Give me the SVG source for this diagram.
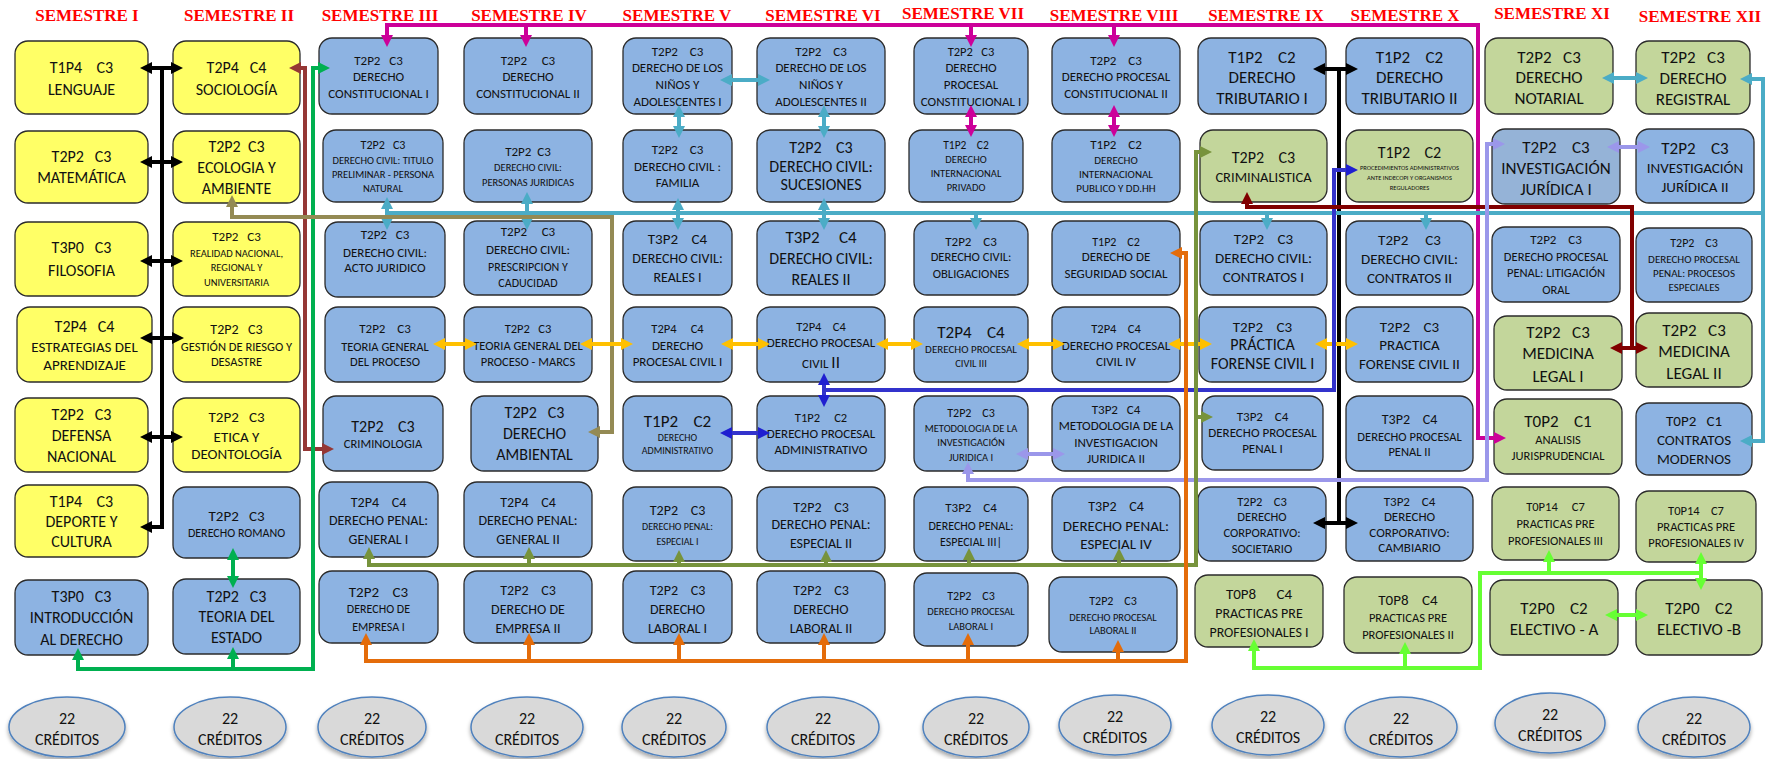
<svg xmlns="http://www.w3.org/2000/svg" width="1765" height="759" viewBox="0 0 1765 759">
<style>
.bx{stroke:#2b2b2b;stroke-width:1.3}
.y{fill:#ffff66}.b{fill:#8db3e2}.g{fill:#c3d69b}.gb{fill:#95b3d7}
text{font-family:"Carlito","Liberation Sans Narrow","Lato",sans-serif;fill:#111;text-anchor:middle;white-space:pre}
.h{font-family:"Liberation Serif",serif;font-weight:bold;fill:#ff0000;font-size:17px}
.s65{font-size:6.5px}.s10{font-size:10px}.s105{font-size:10.5px}.s11{font-size:11px}.s115{font-size:11.5px}.s12{font-size:12px}.s125{font-size:12.5px}.s13{font-size:13px}.s14{font-size:14px}.s145{font-size:14.5px}.s15{font-size:15px}.s16{font-size:16px}.s17{font-size:17px}
.cn path{fill:none;stroke-width:4}
.k{stroke:#000}.br{stroke:#953735}.gr{stroke:#00b050}.mg{stroke:#cc0099}.tl{stroke:#4bacc6}.kh{stroke:#948a54}.gd{stroke:#ffc000}.bl{stroke:#3333cc}.dr{stroke:#800000}.lv{stroke:#9b97ea}.og{stroke:#77933c}.or{stroke:#e46c0a}.lm{stroke:#66ff33}
.el{fill:#d9d9d9;stroke:#4f81bd;stroke-width:1.5}
</style>
<defs>
<filter id="sh" x="-20%" y="-20%" width="140%" height="160%"><feDropShadow dx="0" dy="3" stdDeviation="2" flood-color="#000" flood-opacity="0.35"/></filter>
<marker id="a-k" viewBox="0 0 12 12" refX="8" refY="6" markerWidth="12" markerHeight="12" markerUnits="userSpaceOnUse" orient="auto-start-reverse"><path d="M0,0 L12,6 L0,12 z" fill="#000"/></marker>
<marker id="a-br" viewBox="0 0 12 12" refX="8" refY="6" markerWidth="12" markerHeight="12" markerUnits="userSpaceOnUse" orient="auto-start-reverse"><path d="M0,0 L12,6 L0,12 z" fill="#953735"/></marker>
<marker id="a-gr" viewBox="0 0 12 12" refX="8" refY="6" markerWidth="12" markerHeight="12" markerUnits="userSpaceOnUse" orient="auto-start-reverse"><path d="M0,0 L12,6 L0,12 z" fill="#00b050"/></marker>
<marker id="a-mg" viewBox="0 0 12 12" refX="8" refY="6" markerWidth="12" markerHeight="12" markerUnits="userSpaceOnUse" orient="auto-start-reverse"><path d="M0,0 L12,6 L0,12 z" fill="#cc0099"/></marker>
<marker id="a-tl" viewBox="0 0 12 12" refX="8" refY="6" markerWidth="12" markerHeight="12" markerUnits="userSpaceOnUse" orient="auto-start-reverse"><path d="M0,0 L12,6 L0,12 z" fill="#4bacc6"/></marker>
<marker id="a-kh" viewBox="0 0 12 12" refX="8" refY="6" markerWidth="12" markerHeight="12" markerUnits="userSpaceOnUse" orient="auto-start-reverse"><path d="M0,0 L12,6 L0,12 z" fill="#948a54"/></marker>
<marker id="a-gd" viewBox="0 0 12 12" refX="8" refY="6" markerWidth="12" markerHeight="12" markerUnits="userSpaceOnUse" orient="auto-start-reverse"><path d="M0,0 L12,6 L0,12 z" fill="#ffc000"/></marker>
<marker id="a-bl" viewBox="0 0 12 12" refX="8" refY="6" markerWidth="12" markerHeight="12" markerUnits="userSpaceOnUse" orient="auto-start-reverse"><path d="M0,0 L12,6 L0,12 z" fill="#1f1fd0"/></marker>
<marker id="a-dr" viewBox="0 0 12 12" refX="8" refY="6" markerWidth="12" markerHeight="12" markerUnits="userSpaceOnUse" orient="auto-start-reverse"><path d="M0,0 L12,6 L0,12 z" fill="#800000"/></marker>
<marker id="a-lv" viewBox="0 0 12 12" refX="8" refY="6" markerWidth="12" markerHeight="12" markerUnits="userSpaceOnUse" orient="auto-start-reverse"><path d="M0,0 L12,6 L0,12 z" fill="#9b97ea"/></marker>
<marker id="a-og" viewBox="0 0 12 12" refX="8" refY="6" markerWidth="12" markerHeight="12" markerUnits="userSpaceOnUse" orient="auto-start-reverse"><path d="M0,0 L12,6 L0,12 z" fill="#77933c"/></marker>
<marker id="a-or" viewBox="0 0 12 12" refX="8" refY="6" markerWidth="12" markerHeight="12" markerUnits="userSpaceOnUse" orient="auto-start-reverse"><path d="M0,0 L12,6 L0,12 z" fill="#e46c0a"/></marker>
<marker id="a-lm" viewBox="0 0 12 12" refX="8" refY="6" markerWidth="12" markerHeight="12" markerUnits="userSpaceOnUse" orient="auto-start-reverse"><path d="M0,0 L12,6 L0,12 z" fill="#66ff33"/></marker>
</defs>
<rect width="1765" height="759" fill="#fff"/>

<g id="headers">
<text class="h" x="87" y="21">SEMESTRE I</text>
<text class="h" x="239" y="21">SEMESTRE II</text>
<text class="h" x="380" y="21">SEMESTRE III</text>
<text class="h" x="529" y="21">SEMESTRE IV</text>
<text class="h" x="677" y="21">SEMESTRE V</text>
<text class="h" x="823" y="21">SEMESTRE VI</text>
<text class="h" x="963" y="19">SEMESTRE VII</text>
<text class="h" x="1114" y="21">SEMESTRE VIII</text>
<text class="h" x="1266" y="21">SEMESTRE IX</text>
<text class="h" x="1405" y="21">SEMESTRE X</text>
<text class="h" x="1552" y="19">SEMESTRE XI</text>
<text class="h" x="1700" y="22">SEMESTRE XII</text>
</g>

<!-- Semester I -->
<g id="s1-lenguaje"><rect class="bx y" x="15" y="41" width="133" height="73" rx="13"/><text class="s16" x="81.5" y="73">T1P4    C3</text><text class="s16" x="81.5" y="95">LENGUAJE</text></g>
<g id="s1-matematica"><rect class="bx y" x="15" y="131" width="133" height="72" rx="13"/><text class="s16" x="81.5" y="162">T2P2   C3</text><text class="s16" x="81.5" y="183">MATEMÁTICA</text></g>
<g id="s1-filosofia"><rect class="bx y" x="15" y="222" width="133" height="74" rx="13"/><text class="s16" x="81.5" y="253">T3P0   C3</text><text class="s16" x="81.5" y="276">FILOSOFIA</text></g>
<g id="s1-estrategias"><rect class="bx y" x="17" y="307" width="135" height="75" rx="13"/><text class="s16" x="84.5" y="332">T2P4   C4</text><text class="s15" x="84.5" y="352">ESTRATEGIAS DEL</text><text class="s15" x="84.5" y="370">APRENDIZAJE</text></g>
<g id="s1-defensa"><rect class="bx y" x="15" y="398" width="133" height="74" rx="13"/><text class="s16" x="81.5" y="420">T2P2   C3</text><text class="s16" x="81.5" y="441">DEFENSA</text><text class="s16" x="81.5" y="462">NACIONAL</text></g>
<g id="s1-deporte"><rect class="bx y" x="15" y="485" width="133" height="72" rx="13"/><text class="s16" x="81.5" y="507">T1P4    C3</text><text class="s16" x="81.5" y="527">DEPORTE Y</text><text class="s16" x="81.5" y="547">CULTURA</text></g>
<g id="s1-introduccion"><rect class="bx b" x="15" y="580" width="133" height="75" rx="13"/><text class="s16" x="81.5" y="602">T3P0   C3</text><text class="s16" x="81.5" y="623">INTRODUCCIÓN</text><text class="s16" x="81.5" y="645">AL DERECHO</text></g>

<!-- Semester II -->
<g id="s2-sociologia"><rect class="bx y" x="173" y="41" width="127" height="73" rx="13"/><text class="s16" x="236.5" y="73">T2P4   C4</text><text class="s16" x="236.5" y="95">SOCIOLOGÍA</text></g>
<g id="s2-ecologia"><rect class="bx y" x="173" y="131" width="127" height="72" rx="13"/><text class="s16" x="236.5" y="152">T2P2  C3</text><text class="s16" x="236.5" y="173">ECOLOGIA Y</text><text class="s16" x="236.5" y="194">AMBIENTE</text></g>
<g id="s2-realidad"><rect class="bx y" x="173" y="222" width="127" height="74" rx="13"/><text class="s13" x="236.5" y="241">T2P2   C3</text><text class="s105" x="236.5" y="257">REALIDAD NACIONAL,</text><text class="s105" x="236.5" y="271">REGIONAL Y</text><text class="s105" x="236.5" y="286">UNIVERSITARIA</text></g>
<g id="s2-gestion"><rect class="bx y" x="173" y="307" width="127" height="75" rx="13"/><text class="s14" x="236.5" y="334">T2P2   C3</text><text class="s125" x="236.5" y="351">GESTIÓN DE RIESGO Y</text><text class="s125" x="236.5" y="366">DESASTRE</text></g>
<g id="s2-etica"><rect class="bx y" x="173" y="398" width="127" height="74" rx="13"/><text class="s15" x="236.5" y="422">T2P2   C3</text><text class="s15" x="236.5" y="442">ETICA Y</text><text class="s15" x="236.5" y="459">DEONTOLOGÍA</text></g>
<g id="s2-romano"><rect class="bx b" x="173" y="487" width="127" height="71" rx="13"/><text class="s15" x="236.5" y="521">T2P2   C3</text><text class="s12" x="236.5" y="537">DERECHO ROMANO</text></g>
<g id="s2-estado"><rect class="bx b" x="173" y="579" width="127" height="75" rx="13"/><text class="s16" x="236.5" y="602">T2P2   C3</text><text class="s16" x="236.5" y="622">TEORIA DEL</text><text class="s16" x="236.5" y="643">ESTADO</text></g>

<!-- Semester III -->
<g id="s3-constitucional"><rect class="bx b" x="319" y="38" width="119" height="76" rx="13"/><text class="s13" x="378.5" y="65">T2P2   C3</text><text class="s13" x="378.5" y="81">DERECHO</text><text class="s13" x="378.5" y="98">CONSTITUCIONAL I</text></g>
<g id="s3-titulo"><rect class="bx b" x="323" y="130" width="120" height="72" rx="13"/><text class="s12" x="383" y="149">T2P2   C3</text><text class="s105" x="383" y="164">DERECHO CIVIL: TITULO</text><text class="s105" x="383" y="178">PRELIMINAR - PERSONA</text><text class="s105" x="383" y="192">NATURAL</text></g>
<g id="s3-acto"><rect class="bx b" x="325" y="222" width="120" height="75" rx="13"/><text class="s13" x="385" y="239">T2P2   C3</text><text class="s13" x="385" y="257">DERECHO CIVIL:</text><text class="s13" x="385" y="272">ACTO JURIDICO</text></g>
<g id="s3-teoria"><rect class="bx b" x="325" y="307" width="120" height="75" rx="13"/><text class="s13" x="385" y="333">T2P2    C3</text><text class="s125" x="385" y="351">TEORIA GENERAL</text><text class="s125" x="385" y="366">DEL PROCESO</text></g>
<g id="s3-criminologia"><rect class="bx b" x="323" y="396" width="120" height="75" rx="13"/><text class="s16" x="383" y="432">T2P2    C3</text><text class="s125" x="383" y="448">CRIMINOLOGIA</text></g>
<g id="s3-penal"><rect class="bx b" x="319" y="482" width="119" height="75" rx="13"/><text class="s14" x="378.5" y="507">T2P4    C4</text><text class="s14" x="378.5" y="525">DERECHO PENAL:</text><text class="s14" x="378.5" y="544">GENERAL I</text></g>
<g id="s3-empresa"><rect class="bx b" x="319" y="571" width="119" height="72" rx="13"/><text class="s15" x="378.5" y="597">T2P2    C3</text><text class="s12" x="378.5" y="613">DERECHO DE</text><text class="s12" x="378.5" y="631">EMPRESA I</text></g>

<!-- Semester IV -->
<g id="s4-constitucional"><rect class="bx b" x="464" y="38" width="128" height="76" rx="13"/><text class="s13" x="528" y="65">T2P2     C3</text><text class="s13" x="528" y="81">DERECHO</text><text class="s13" x="528" y="98">CONSTITUCIONAL II</text></g>
<g id="s4-personas"><rect class="bx b" x="464" y="130" width="128" height="72" rx="13"/><text class="s13" x="528" y="156">T2P2  C3</text><text class="s105" x="528" y="171">DERECHO CIVIL:</text><text class="s105" x="528" y="186">PERSONAS JURIDICAS</text></g>
<g id="s4-prescripcion"><rect class="bx b" x="464" y="221" width="128" height="74" rx="13"/><text class="s13" x="528" y="236">T2P2     C3</text><text class="s13" x="528" y="254">DERECHO CIVIL:</text><text class="s12" x="528" y="271">PRESCRIPCION Y</text><text class="s12" x="528" y="287">CADUCIDAD</text></g>
<g id="s4-marcs"><rect class="bx b" x="464" y="307" width="128" height="75" rx="13"/><text class="s125" x="528" y="333">T2P2   C3</text><text class="s125" x="528" y="350">TEORIA GENERAL DEL</text><text class="s125" x="528" y="366">PROCESO - MARCS</text></g>
<g id="s4-ambiental"><rect class="bx b" x="471" y="396" width="127" height="75" rx="13"/><text class="s16" x="534.5" y="418">T2P2   C3</text><text class="s16" x="534.5" y="439">DERECHO</text><text class="s16" x="534.5" y="460">AMBIENTAL</text></g>
<g id="s4-penal"><rect class="bx b" x="464" y="482" width="128" height="75" rx="13"/><text class="s14" x="528" y="507">T2P4    C4</text><text class="s14" x="528" y="525">DERECHO PENAL:</text><text class="s14" x="528" y="544">GENERAL II</text></g>
<g id="s4-empresa"><rect class="bx b" x="464" y="571" width="128" height="72" rx="13"/><text class="s14" x="528" y="595">T2P2    C3</text><text class="s14" x="528" y="614">DERECHO DE</text><text class="s14" x="528" y="633">EMPRESA II</text></g>

<!-- Semester V -->
<g id="s5-ninos"><rect class="bx b" x="623" y="38" width="109" height="76" rx="13"/><text class="s13" x="677.5" y="56">T2P2    C3</text><text class="s13" x="677.5" y="72">DERECHO DE LOS</text><text class="s13" x="677.5" y="89">NIÑOS Y</text><text class="s13" x="677.5" y="106">ADOLESCENTES I</text></g>
<g id="s5-familia"><rect class="bx b" x="623" y="130" width="109" height="72" rx="13"/><text class="s13" x="677.5" y="154">T2P2    C3</text><text class="s13" x="677.5" y="171">DERECHO CIVIL :</text><text class="s13" x="677.5" y="187">FAMILIA</text></g>
<g id="s5-reales"><rect class="bx b" x="623" y="221" width="109" height="74" rx="13"/><text class="s15" x="677.5" y="244">T3P2    C4</text><text class="s14" x="677.5" y="263">DERECHO CIVIL:</text><text class="s14" x="677.5" y="282">REALES I</text></g>
<g id="s5-procesal"><rect class="bx b" x="623" y="307" width="109" height="75" rx="13"/><text class="s125" x="677.5" y="333">T2P4     C4</text><text class="s13" x="677.5" y="350">DERECHO</text><text class="s13" x="677.5" y="366">PROCESAL CIVIL I</text></g>
<g id="s5-administrativo"><rect class="bx b" x="623" y="396" width="109" height="75" rx="13"/><text class="s17" x="677.5" y="427">T1P2    C2</text><text class="s10" x="677.5" y="441">DERECHO</text><text class="s10" x="677.5" y="454">ADMINISTRATIVO</text></g>
<g id="s5-penal"><rect class="bx b" x="623" y="487" width="109" height="74" rx="13"/><text class="s14" x="677.5" y="515">T2P2    C3</text><text class="s10" x="677.5" y="530">DERECHO PENAL:</text><text class="s10" x="677.5" y="545">ESPECIAL I</text></g>
<g id="s5-laboral"><rect class="bx b" x="623" y="571" width="109" height="72" rx="13"/><text class="s14" x="677.5" y="595">T2P2    C3</text><text class="s14" x="677.5" y="614">DERECHO</text><text class="s14" x="677.5" y="633">LABORAL I</text></g>

<!-- Semester VI -->
<g id="s6-ninos"><rect class="bx b" x="757" y="38" width="128" height="76" rx="13"/><text class="s13" x="821" y="56">T2P2    C3</text><text class="s13" x="821" y="72">DERECHO DE LOS</text><text class="s13" x="821" y="89">NIÑOS Y</text><text class="s13" x="821" y="106">ADOLESCENTES II</text></g>
<g id="s6-sucesiones"><rect class="bx b" x="757" y="130" width="128" height="72" rx="13"/><text class="s16" x="821" y="153">T2P2    C3</text><text class="s16" x="821" y="172">DERECHO CIVIL:</text><text class="s16" x="821" y="190">SUCESIONES</text></g>
<g id="s6-reales"><rect class="bx b" x="757" y="221" width="128" height="74" rx="13"/><text class="s17" x="821" y="243">T3P2     C4</text><text class="s16" x="821" y="264">DERECHO CIVIL:</text><text class="s16" x="821" y="285">REALES II</text></g>
<g id="s6-procesal"><rect class="bx b" x="757" y="307" width="128" height="75" rx="13"/><text class="s125" x="821" y="331">T2P4    C4</text><text class="s13" x="821" y="347">DERECHO PROCESAL</text><text class="s13" x="821" y="368">CIVIL <tspan class="s17">II</tspan></text></g>
<g id="s6-administrativo"><rect class="bx b" x="757" y="396" width="128" height="75" rx="13"/><text class="s125" x="821" y="422">T1P2     C2</text><text class="s13" x="821" y="438">DERECHO PROCESAL</text><text class="s13" x="821" y="454">ADMINISTRATIVO</text></g>
<g id="s6-penal"><rect class="bx b" x="757" y="487" width="128" height="74" rx="13"/><text class="s14" x="821" y="512">T2P2    C3</text><text class="s14" x="821" y="529">DERECHO PENAL:</text><text class="s14" x="821" y="548">ESPECIAL II</text></g>
<g id="s6-laboral"><rect class="bx b" x="757" y="571" width="128" height="72" rx="13"/><text class="s14" x="821" y="595">T2P2    C3</text><text class="s14" x="821" y="614">DERECHO</text><text class="s14" x="821" y="633">LABORAL II</text></g>

<!-- Semester VII -->
<g id="s7-constitucional"><rect class="bx b" x="914" y="38" width="114" height="76" rx="13"/><text class="s125" x="971" y="56">T2P2   C3</text><text class="s13" x="971" y="72">DERECHO</text><text class="s13" x="971" y="89">PROCESAL</text><text class="s13" x="971" y="106">CONSTITUCIONAL I</text></g>
<g id="s7-internacional"><rect class="bx b" x="909" y="130" width="114" height="72" rx="13"/><text class="s115" x="966" y="149">T1P2    C2</text><text class="s105" x="966" y="163">DERECHO</text><text class="s105" x="966" y="177">INTERNACIONAL</text><text class="s105" x="966" y="191">PRIVADO</text></g>
<g id="s7-obligaciones"><rect class="bx b" x="914" y="221" width="114" height="74" rx="13"/><text class="s13" x="971" y="246">T2P2    C3</text><text class="s125" x="971" y="261">DERECHO CIVIL:</text><text class="s125" x="971" y="278">OBLIGACIONES</text></g>
<g id="s7-procesal"><rect class="bx b" x="914" y="307" width="114" height="75" rx="13"/><text class="s17" x="971" y="338">T2P4    C4</text><text class="s11" x="971" y="353">DERECHO PROCESAL</text><text class="s105" x="971" y="367">CIVIL III</text></g>
<g id="s7-metodologia"><rect class="bx b" x="914" y="396" width="114" height="75" rx="13"/><text class="s12" x="971" y="417">T2P2    C3</text><text class="s105" x="971" y="432">METODOLOGIA DE LA</text><text class="s105" x="971" y="446">INVESTIGACIÓN</text><text class="s105" x="971" y="461">JURIDICA I</text></g>
<g id="s7-penal"><rect class="bx b" x="914" y="487" width="114" height="74" rx="13"/><text class="s13" x="971" y="512">T3P2    C4</text><text class="s12" x="971" y="530">DERECHO PENAL:</text><text class="s12" x="971" y="546">ESPECIAL III|</text></g>
<g id="s7-laboral"><rect class="bx b" x="914" y="573" width="114" height="73" rx="13"/><text class="s12" x="971" y="600">T2P2    C3</text><text class="s105" x="971" y="615">DERECHO PROCESAL</text><text class="s105" x="971" y="630">LABORAL I</text></g>

<!-- Semester VIII -->
<g id="s8-constitucional"><rect class="bx b" x="1052" y="38" width="128" height="76" rx="13"/><text class="s13" x="1116" y="65">T2P2    C3</text><text class="s13" x="1116" y="81">DERECHO PROCESAL</text><text class="s13" x="1116" y="98">CONSTITUCIONAL II</text></g>
<g id="s8-internacional"><rect class="bx b" x="1052" y="130" width="128" height="72" rx="13"/><text class="s13" x="1116" y="149">T1P2    C2</text><text class="s11" x="1116" y="164">DERECHO</text><text class="s11" x="1116" y="178">INTERNACIONAL</text><text class="s11" x="1116" y="192">PUBLICO Y DD.HH</text></g>
<g id="s8-seguridad"><rect class="bx b" x="1052" y="221" width="128" height="74" rx="13"/><text class="s12" x="1116" y="246">T1P2    C2</text><text class="s13" x="1116" y="261">DERECHO DE</text><text class="s13" x="1116" y="278">SEGURIDAD SOCIAL</text></g>
<g id="s8-procesal"><rect class="bx b" x="1052" y="307" width="128" height="75" rx="13"/><text class="s125" x="1116" y="333">T2P4    C4</text><text class="s13" x="1116" y="350">DERECHO PROCESAL</text><text class="s13" x="1116" y="366">CIVIL IV</text></g>
<g id="s8-metodologia"><rect class="bx b" x="1052" y="396" width="128" height="75" rx="13"/><text class="s13" x="1116" y="414">T3P2   C4</text><text class="s13" x="1116" y="430">METODOLOGIA DE LA</text><text class="s13" x="1116" y="447">INVESTIGACION</text><text class="s13" x="1116" y="463">JURIDICA II</text></g>
<g id="s8-penal"><rect class="bx b" x="1052" y="487" width="128" height="74" rx="13"/><text class="s14" x="1116" y="511">T3P2    C4</text><text class="s15" x="1116" y="531">DERECHO PENAL:</text><text class="s15" x="1116" y="549">ESPECIAL IV</text></g>
<g id="s8-laboral"><rect class="bx b" x="1049" y="577" width="128" height="75" rx="13"/><text class="s12" x="1113" y="605">T2P2    C3</text><text class="s105" x="1113" y="621">DERECHO PROCESAL</text><text class="s105" x="1113" y="634">LABORAL II</text></g>

<!-- Semester IX -->
<g id="s9-tributario"><rect class="bx b" x="1198" y="38" width="128" height="76" rx="13"/><text class="s17" x="1262" y="63">T1P2    C2</text><text class="s17" x="1262" y="83">DERECHO</text><text class="s17" x="1262" y="104">TRIBUTARIO I</text></g>
<g id="s9-criminalistica"><rect class="bx g" x="1200" y="130" width="127" height="72" rx="13"/><text class="s16" x="1263.5" y="163">T2P2    C3</text><text class="s145" x="1263.5" y="182">CRIMINALISTICA</text></g>
<g id="s9-contratos"><rect class="bx b" x="1200" y="221" width="127" height="74" rx="13"/><text class="s15" x="1263.5" y="244">T2P2    C3</text><text class="s15" x="1263.5" y="263">DERECHO CIVIL:</text><text class="s15" x="1263.5" y="282">CONTRATOS I</text></g>
<g id="s9-practica"><rect class="bx b" x="1199" y="307" width="127" height="75" rx="13"/><text class="s15" x="1262.5" y="332">T2P2    C3</text><text class="s16" x="1262.5" y="350">PRÁCTICA</text><text class="s16" x="1262.5" y="369">FORENSE CIVIL I</text></g>
<g id="s9-penal"><rect class="bx b" x="1202" y="396" width="121" height="74" rx="13"/><text class="s13" x="1262.5" y="421">T3P2    C4</text><text class="s13" x="1262.5" y="437">DERECHO PROCESAL</text><text class="s13" x="1262.5" y="453">PENAL I</text></g>
<g id="s9-corporativo"><rect class="bx b" x="1198" y="487" width="128" height="74" rx="13"/><text class="s125" x="1262" y="506">T2P2    C3</text><text class="s125" x="1262" y="521">DERECHO</text><text class="s125" x="1262" y="537">CORPORATIVO:</text><text class="s125" x="1262" y="553">SOCIETARIO</text></g>
<g id="s9-practicas"><rect class="bx g" x="1195" y="575" width="128" height="72" rx="13"/><text class="s15" x="1259" y="599">T0P8      C4</text><text class="s14" x="1259" y="618">PRACTICAS PRE</text><text class="s14" x="1259" y="637">PROFESIONALES I</text></g>

<!-- Semester X -->
<g id="s10-tributario"><rect class="bx b" x="1346" y="38" width="127" height="76" rx="13"/><text class="s17" x="1409.5" y="63">T1P2    C2</text><text class="s17" x="1409.5" y="83">DERECHO</text><text class="s17" x="1409.5" y="104">TRIBUTARIO II</text></g>
<g id="s10-procedimientos"><rect class="bx g" x="1346" y="130" width="127" height="72" rx="13"/><text class="s16" x="1409.5" y="158">T1P2    C2</text><text class="s65" x="1409.5" y="170">PROCEDIMIENTOS ADMINISTRATIVOS</text><text class="s65" x="1409.5" y="180">ANTE INDECOPI Y ORGANISMOS</text><text class="s65" x="1409.5" y="190">REGULADORES</text></g>
<g id="s10-contratos"><rect class="bx b" x="1346" y="221" width="127" height="74" rx="13"/><text class="s15" x="1409.5" y="245">T2P2     C3</text><text class="s15" x="1409.5" y="264">DERECHO CIVIL:</text><text class="s15" x="1409.5" y="283">CONTRATOS II</text></g>
<g id="s10-practica"><rect class="bx b" x="1346" y="307" width="127" height="75" rx="13"/><text class="s15" x="1409.5" y="332">T2P2    C3</text><text class="s15" x="1409.5" y="350">PRACTICA</text><text class="s15" x="1409.5" y="369">FORENSE CIVIL II</text></g>
<g id="s10-penal"><rect class="bx b" x="1346" y="396" width="127" height="75" rx="13"/><text class="s14" x="1409.5" y="424">T3P2    C4</text><text class="s125" x="1409.5" y="441">DERECHO PROCESAL</text><text class="s125" x="1409.5" y="456">PENAL II</text></g>
<g id="s10-cambiario"><rect class="bx b" x="1346" y="487" width="127" height="74" rx="13"/><text class="s13" x="1409.5" y="506">T3P2    C4</text><text class="s13" x="1409.5" y="521">DERECHO</text><text class="s13" x="1409.5" y="537">CORPORATIVO:</text><text class="s13" x="1409.5" y="552">CAMBIARIO</text></g>
<g id="s10-practicas"><rect class="bx g" x="1344" y="577" width="128" height="76" rx="13"/><text class="s15" x="1408" y="605">T0P8    C4</text><text class="s125" x="1408" y="622">PRACTICAS PRE</text><text class="s125" x="1408" y="639">PROFESIONALES II</text></g>

<!-- Semester XI -->
<g id="s11-notarial"><rect class="bx g" x="1485" y="38" width="128" height="76" rx="13"/><text class="s17" x="1549" y="63">T2P2   C3</text><text class="s17" x="1549" y="83">DERECHO</text><text class="s17" x="1549" y="104">NOTARIAL</text></g>
<g id="s11-investigacion"><rect class="bx gb" x="1492" y="129" width="128" height="75" rx="13"/><text class="s17" x="1556" y="153">T2P2    C3</text><text class="s17" x="1556" y="174">INVESTIGACIÓN</text><text class="s17" x="1556" y="195">JURÍDICA I</text></g>
<g id="s11-litigacion"><rect class="bx b" x="1492" y="227" width="128" height="75" rx="13"/><text class="s13" x="1556" y="244">T2P2    C3</text><text class="s125" x="1556" y="261">DERECHO PROCESAL</text><text class="s125" x="1556" y="277">PENAL: LITIGACIÓN</text><text class="s125" x="1556" y="294">ORAL</text></g>
<g id="s11-medicina"><rect class="bx g" x="1494" y="316" width="128" height="74" rx="13"/><text class="s17" x="1558" y="338">T2P2   C3</text><text class="s17" x="1558" y="359">MEDICINA</text><text class="s17" x="1558" y="382">LEGAL I</text></g>
<g id="s11-analisis"><rect class="bx g" x="1494" y="399" width="128" height="75" rx="13"/><text class="s17" x="1558" y="427">T0P2    C1</text><text class="s125" x="1558" y="444">ANALISIS</text><text class="s125" x="1558" y="460">JURISPRUDENCIAL</text></g>
<g id="s11-practicas"><rect class="bx g" x="1492" y="487" width="127" height="73" rx="13"/><text class="s125" x="1555.5" y="511">T0P14     C7</text><text class="s125" x="1555.5" y="528">PRACTICAS PRE</text><text class="s125" x="1555.5" y="545">PROFESIONALES III</text></g>
<g id="s11-electivo"><rect class="bx g" x="1490" y="580" width="128" height="75" rx="13"/><text class="s17" x="1554" y="614">T2P0    C2</text><text class="s17" x="1554" y="635">ELECTIVO - A</text></g>

<!-- Semester XII -->
<g id="s12-registral"><rect class="bx g" x="1636" y="41" width="114" height="73" rx="13"/><text class="s17" x="1693" y="63">T2P2   C3</text><text class="s17" x="1693" y="84">DERECHO</text><text class="s17" x="1693" y="105">REGISTRAL</text></g>
<g id="s12-investigacion"><rect class="bx b" x="1636" y="129" width="118" height="74" rx="13"/><text class="s17" x="1695" y="154">T2P2    C3</text><text class="s15" x="1695" y="173">INVESTIGACIÓN</text><text class="s15" x="1695" y="192">JURÍDICA II</text></g>
<g id="s12-especiales"><rect class="bx b" x="1636" y="228" width="116" height="74" rx="13"/><text class="s12" x="1694" y="247">T2P2    C3</text><text class="s11" x="1694" y="263">DERECHO PROCESAL</text><text class="s11" x="1694" y="277">PENAL: PROCESOS</text><text class="s11" x="1694" y="291">ESPECIALES</text></g>
<g id="s12-medicina"><rect class="bx g" x="1636" y="313" width="116" height="74" rx="13"/><text class="s17" x="1694" y="336">T2P2   C3</text><text class="s17" x="1694" y="357">MEDICINA</text><text class="s17" x="1694" y="379">LEGAL II</text></g>
<g id="s12-contratos"><rect class="bx b" x="1636" y="403" width="116" height="72" rx="13"/><text class="s15" x="1694" y="426">T0P2   C1</text><text class="s15" x="1694" y="445">CONTRATOS</text><text class="s15" x="1694" y="464">MODERNOS</text></g>
<g id="s12-practicas"><rect class="bx g" x="1636" y="491" width="120" height="71" rx="13"/><text class="s125" x="1696" y="515">T0P14    C7</text><text class="s125" x="1696" y="531">PRACTICAS PRE</text><text class="s125" x="1696" y="547">PROFESIONALES IV</text></g>
<g id="s12-electivo"><rect class="bx g" x="1636" y="580" width="126" height="75" rx="13"/><text class="s17" x="1699" y="614">T2P0    C2</text><text class="s17" x="1699" y="635">ELECTIVO -B</text></g>

<!-- Credits -->
<g id="creditos">
<g filter="url(#sh)">
<ellipse class="el" cx="67" cy="727" rx="58" ry="30"/>
<ellipse class="el" cx="230" cy="727" rx="56" ry="30"/>
<ellipse class="el" cx="372" cy="727" rx="54" ry="30"/>
<ellipse class="el" cx="527" cy="727" rx="56" ry="30"/>
<ellipse class="el" cx="674" cy="727" rx="52" ry="30"/>
<ellipse class="el" cx="823" cy="727" rx="56" ry="30"/>
<ellipse class="el" cx="976" cy="727" rx="53" ry="30"/>
<ellipse class="el" cx="1115" cy="725" rx="56" ry="30"/>
<ellipse class="el" cx="1268" cy="725" rx="56" ry="30"/>
<ellipse class="el" cx="1401" cy="727" rx="56" ry="30"/>
<ellipse class="el" cx="1550" cy="723" rx="55" ry="30"/>
<ellipse class="el" cx="1694" cy="727" rx="56" ry="30"/>
</g>
<text class="s16" x="67" y="724">22</text><text class="s16" x="67" y="745">CRÉDITOS</text>
<text class="s16" x="230" y="724">22</text><text class="s16" x="230" y="745">CRÉDITOS</text>
<text class="s16" x="372" y="724">22</text><text class="s16" x="372" y="745">CRÉDITOS</text>
<text class="s16" x="527" y="724">22</text><text class="s16" x="527" y="745">CRÉDITOS</text>
<text class="s16" x="674" y="724">22</text><text class="s16" x="674" y="745">CRÉDITOS</text>
<text class="s16" x="823" y="724">22</text><text class="s16" x="823" y="745">CRÉDITOS</text>
<text class="s16" x="976" y="724">22</text><text class="s16" x="976" y="745">CRÉDITOS</text>
<text class="s16" x="1115" y="722">22</text><text class="s16" x="1115" y="743">CRÉDITOS</text>
<text class="s16" x="1268" y="722">22</text><text class="s16" x="1268" y="743">CRÉDITOS</text>
<text class="s16" x="1401" y="724">22</text><text class="s16" x="1401" y="745">CRÉDITOS</text>
<text class="s16" x="1550" y="720">22</text><text class="s16" x="1550" y="741">CRÉDITOS</text>
<text class="s16" x="1694" y="724">22</text><text class="s16" x="1694" y="745">CRÉDITOS</text>
</g>

<!-- Connectors -->
<g id="connectors" class="cn">
<!-- black -->
<path class="k" d="M162,68 V527 H144" marker-end="url(#a-k)"/>
<path class="k" d="M144,68 H179" marker-start="url(#a-k)" marker-end="url(#a-k)"/>
<path class="k" d="M144,162 H179" marker-start="url(#a-k)" marker-end="url(#a-k)"/>
<path class="k" d="M144,261 H179" marker-start="url(#a-k)" marker-end="url(#a-k)"/>
<path class="k" d="M144,338 H180" marker-start="url(#a-k)" marker-end="url(#a-k)"/>
<path class="k" d="M144,437 H179" marker-start="url(#a-k)" marker-end="url(#a-k)"/>
<path class="k" d="M1339,69 V523"/>
<path class="k" d="M1317,69 H1354" marker-start="url(#a-k)" marker-end="url(#a-k)"/>
<path class="k" d="M1317,523 H1354" marker-start="url(#a-k)" marker-end="url(#a-k)"/>
<!-- brown -->
<path class="br" d="M293,68 H305 V449 H330" marker-start="url(#a-br)" marker-end="url(#a-br)"/>
<!-- green -->
<path class="gr" d="M326,68 H313 V669 H78 V652" marker-start="url(#a-gr)" marker-end="url(#a-gr)"/>
<path class="gr" d="M233,669 V651" marker-end="url(#a-gr)"/>
<path class="gr" d="M233,552 V584" marker-start="url(#a-gr)" marker-end="url(#a-gr)"/>
<!-- magenta -->
<path class="mg" d="M387,43 V25 H1478 V438 H1502" marker-start="url(#a-mg)" marker-end="url(#a-mg)"/>
<path class="mg" d="M526,25 V43" marker-end="url(#a-mg)"/>
<path class="mg" d="M971,25 V43" marker-end="url(#a-mg)"/>
<path class="mg" d="M1114,25 V43" marker-end="url(#a-mg)"/>
<path class="mg" d="M971,109 V133" marker-start="url(#a-mg)" marker-end="url(#a-mg)"/>
<path class="mg" d="M1114,109 V133" marker-start="url(#a-mg)" marker-end="url(#a-mg)"/>
<!-- teal -->
<path class="tl" d="M724,80 H766" marker-start="url(#a-tl)" marker-end="url(#a-tl)"/>
<path class="tl" d="M679,109 V134" marker-start="url(#a-tl)" marker-end="url(#a-tl)"/>
<path class="tl" d="M824,109 V134" marker-start="url(#a-tl)" marker-end="url(#a-tl)"/>
<path class="tl" d="M387,213 H1763"/>
<path class="tl" d="M1744,79 H1763 V441 H1744" marker-start="url(#a-tl)" marker-end="url(#a-tl)"/>
<path class="tl" d="M387,201 V226" marker-start="url(#a-tl)" marker-end="url(#a-tl)"/>
<path class="tl" d="M527,196 V226" marker-start="url(#a-tl)" marker-end="url(#a-tl)"/>
<path class="tl" d="M678,202 V226" marker-start="url(#a-tl)" marker-end="url(#a-tl)"/>
<path class="tl" d="M824,202 V226" marker-start="url(#a-tl)" marker-end="url(#a-tl)"/>
<path class="tl" d="M976,213 V226" marker-end="url(#a-tl)"/>
<path class="tl" d="M1267,213 V226" marker-end="url(#a-tl)"/>
<path class="tl" d="M1426,213 V226" marker-end="url(#a-tl)"/>
<path class="tl" d="M1606,78 H1644" marker-start="url(#a-tl)" marker-end="url(#a-tl)"/>
<!-- khaki -->
<path class="kh" d="M232,199 V217 H612 V432 H592" marker-start="url(#a-kh)" marker-end="url(#a-kh)"/>
<!-- gold -->
<path class="gd" d="M437,344 H473" marker-start="url(#a-gd)" marker-end="url(#a-gd)"/>
<path class="gd" d="M584,344 H629" marker-start="url(#a-gd)" marker-end="url(#a-gd)"/>
<path class="gd" d="M725,344 H766" marker-start="url(#a-gd)" marker-end="url(#a-gd)"/>
<path class="gd" d="M880,344 H919" marker-start="url(#a-gd)" marker-end="url(#a-gd)"/>
<path class="gd" d="M1021,344 H1061" marker-start="url(#a-gd)" marker-end="url(#a-gd)"/>
<path class="gd" d="M1172,344 H1208" marker-start="url(#a-gd)" marker-end="url(#a-gd)"/>
<path class="gd" d="M1319,344 H1354" marker-start="url(#a-gd)" marker-end="url(#a-gd)"/>
<!-- blue -->
<path class="bl" d="M724,433 H766" marker-start="url(#a-bl)" marker-end="url(#a-bl)"/>
<path class="bl" d="M824,377 V403" marker-start="url(#a-bl)" marker-end="url(#a-bl)"/>
<path class="bl" d="M824,390 H1334 V170 H1354" marker-end="url(#a-bl)"/>
<!-- dark red -->
<path class="dr" d="M1247,196 V207 H1632 V348" marker-start="url(#a-dr)"/>
<path class="dr" d="M1614,348 H1644" marker-start="url(#a-dr)" marker-end="url(#a-dr)"/>
<!-- lavender -->
<path class="lv" d="M1020,454 H1061" marker-start="url(#a-lv)" marker-end="url(#a-lv)"/>
<path class="lv" d="M968,466 V480 H1487 V144 H1501" marker-start="url(#a-lv)" marker-end="url(#a-lv)"/>
<path class="lv" d="M1611,147 H1646" marker-start="url(#a-lv)" marker-end="url(#a-lv)"/>
<!-- olive green -->
<path class="og" d="M369,551 V565 H1196 V152 H1208" marker-start="url(#a-og)" marker-end="url(#a-og)"/>
<path class="og" d="M529,565 V551" marker-end="url(#a-og)"/>
<path class="og" d="M679,565 V554" marker-end="url(#a-og)"/>
<path class="og" d="M826,565 V554" marker-end="url(#a-og)"/>
<path class="og" d="M969,565 V552" marker-end="url(#a-og)"/>
<path class="og" d="M1119,565 V552" marker-end="url(#a-og)"/>
<path class="og" d="M1196,417 H1209" marker-end="url(#a-og)"/>
<!-- orange -->
<path class="or" d="M366,637 V661 H1186 V253 H1174" marker-start="url(#a-or)" marker-end="url(#a-or)"/>
<path class="or" d="M529,661 V637" marker-end="url(#a-or)"/>
<path class="or" d="M679,661 V637" marker-end="url(#a-or)"/>
<path class="or" d="M824,661 V637" marker-end="url(#a-or)"/>
<path class="or" d="M968,661 V637" marker-end="url(#a-or)"/>
<path class="or" d="M1118,661 V644" marker-end="url(#a-or)"/>
<!-- lime -->
<path class="lm" d="M1254,643 V668 H1480 V573 H1701 V556" marker-start="url(#a-lm)" marker-end="url(#a-lm)"/>
<path class="lm" d="M1405,668 V646" marker-end="url(#a-lm)"/>
<path class="lm" d="M1549,573 V554" marker-end="url(#a-lm)"/>
<path class="lm" d="M1701,573 V586" marker-end="url(#a-lm)"/>
<path class="lm" d="M1609,615 H1644" marker-start="url(#a-lm)" marker-end="url(#a-lm)"/>
</g>
</svg>
